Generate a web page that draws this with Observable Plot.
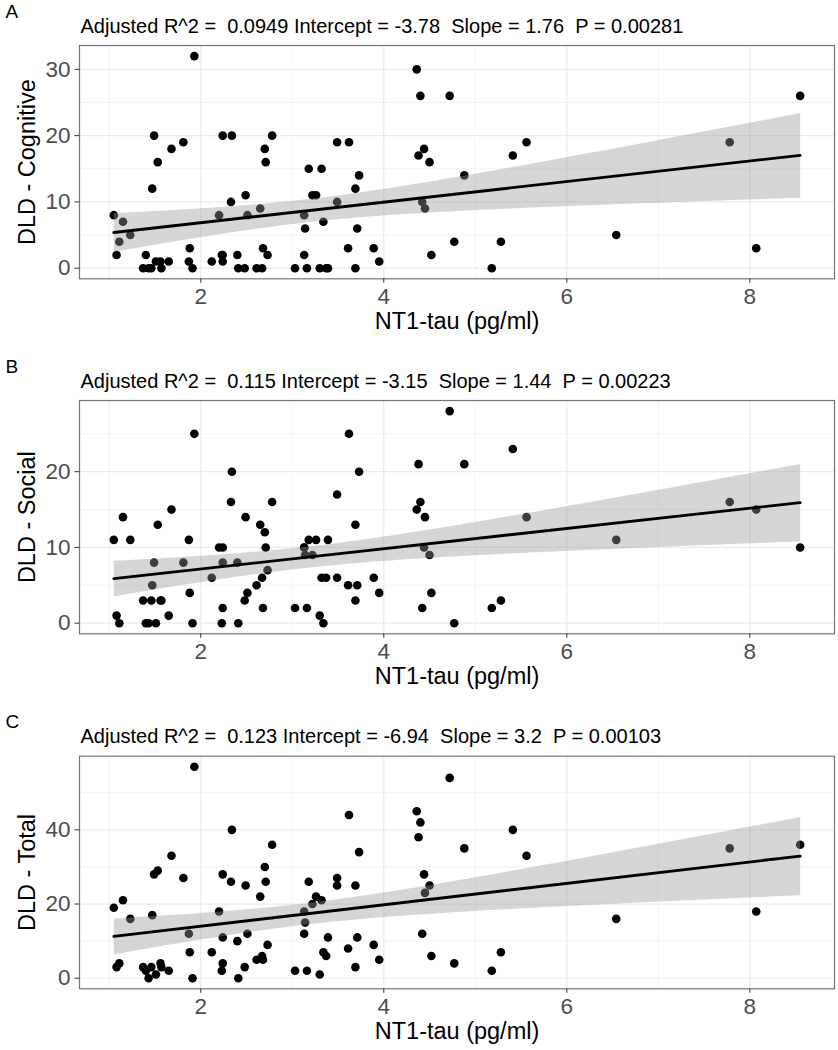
<!DOCTYPE html>
<html>
<head>
<meta charset="utf-8">
<script src="https://cdn.jsdelivr.net/npm/d3@7"></script>
<script src="https://cdn.jsdelivr.net/npm/@observablehq/plot@0.6"></script>
<style>
  html, body { margin: 0; padding: 0; background: white; }
  #chart svg { display: block; }
</style>
</head>
<body>
<div id="chart"></div>
<script>
// NT1-tau (pg/ml) per subject
const tau = [1.05,1.15,1.23,1.08,1.11,1.49,1.53,1.47,1.68,1.81,1.87,1.88,1.91,1.93,
  1.37,1.40,1.43,1.46,1.51,1.56,1.57,1.65,
  2.12,2.20,2.24,2.33,2.34,2.24,2.24,2.23,2.41,2.40,2.49,2.51,2.48,2.65,2.70,2.71,2.78,2.73,2.61,2.67,2.68,
  3.03,3.16,3.13,3.14,3.22,3.18,3.26,3.32,3.13,3.39,3.34,3.37,3.30,3.49,3.49,3.62,3.73,3.69,3.61,3.71,3.69,3.89,3.95,
  4.72,4.36,4.40,4.38,4.88,5.41,5.56,4.44,4.50,4.45,4.42,4.52,4.77,5.18,5.28,6.54,7.78,8.07,8.55];
// DLD - Cognitive
const cognitive = [8,7,5,2,4,20,16,12,18,19,1,3,0,32,
  0,2,0,0,1,1,0,1,
  1,8,20,10,20,1,2,2,0,2,11,8,0,9,18,16,20,2,0,0,3,
  0,0,8,6,11,15,11,15,2,0,7,0,0,10,19,19,14,12,3,6,0,3,1,
  26,30,26,17,14,17,19,18,16,9,10,2,4,0,4,5,19,3,26];
// DLD - Social
const social = [11,14,11,1,0,8,13,5,15,8,11,4,0,25,
  3,0,0,3,0,3,3,1,
  6,10,8,16,20,10,2,0,0,8,14,4,3,13,12,10,16,7,5,6,2,
  2,2,10,9,9,11,11,6,10,11,0,6,1,17,6,25,20,13,5,5,3,6,4,
  28,15,16,21,21,23,14,10,9,14,2,4,0,2,3,11,16,15,10];
// DLD - Total
const total = [19,21,16,3,4,28,29,17,33,27,12,7,0,57,
  3,2,0,3,1,4,3,2,
  7,18,28,26,40,11,4,2,0,10,25,12,3,22,30,26,36,9,5,6,5,
  2,2,18,15,20,26,22,21,12,11,7,6,1,27,25,44,34,25,8,11,3,9,5,
  54,45,42,38,35,40,33,28,25,23,12,6,4,2,7,16,35,18,36];

const xMajor = [2, 4, 6, 8];
const xMinor = [1, 3, 5, 7];
const tags = ["A", "B", "C"];
const yLabels = ["DLD - Cognitive", "DLD - Social", "DLD - Total"];
const subtitles = [
  "Adjusted R^2 =  0.0949 Intercept = -3.78  Slope = 1.76  P = 0.00281",
  "Adjusted R^2 =  0.115 Intercept = -3.15  Slope = 1.44  P = 0.00223",
  "Adjusted R^2 =  0.123 Intercept = -6.94  Slope = 3.2  P = 0.00103"
];
const yMajors = [[0, 10, 20, 30], [0, 10, 20], [0, 20, 40]];
const yMinors = [[5, 15, 25], [5, 15, 25], [10, 30, 50]];
const xLabel = "NT1-tau (pg/ml)";

const data = tau.map((t, i) => ({tau: t, cognitive: cognitive[i], social: social[i], total: total[i]}));
const keys = ["cognitive", "social", "total"];

function expand([a, b]) { const d = (b - a) * 0.05; return [a - d, b + d]; }
const xDomain = expand(d3.extent(tau));

const layout = [
  {height: 355, marginTop: 45, marginBottom: 76.7},
  {height: 355, marginTop: 45, marginBottom: 76.7},
  {height: 340, marginTop: 45.7, marginBottom: 61.7}
];

const nb = s => s.replace(/  /g, " \u00A0");
const font = "'Liberation Sans', Arial, Helvetica, sans-serif";
const root = document.getElementById("chart");

keys.forEach((key, i) => {
  const yDomain = expand(d3.extent(data, d => d[key]));
  const L = layout[i];
  const chart = Plot.plot({
    width: 838,
    height: L.height,
    marginLeft: 79,
    marginRight: 4,
    marginTop: L.marginTop,
    marginBottom: L.marginBottom,
    style: {fontFamily: font, background: "white", overflow: "visible"},
    x: {domain: xDomain},
    y: {domain: yDomain},
    marks: [
      Plot.gridX(xMinor, {stroke: "#ebebeb", strokeOpacity: 1, strokeWidth: 0.6}),
      Plot.gridY(yMinors[i], {stroke: "#ebebeb", strokeOpacity: 1, strokeWidth: 0.6}),
      Plot.gridX(xMajor, {stroke: "#ebebeb", strokeOpacity: 1, strokeWidth: 1.2}),
      Plot.gridY(yMajors[i], {stroke: "#ebebeb", strokeOpacity: 1, strokeWidth: 1.2}),
      Plot.dot(data, {x: "tau", y: key, r: 4.3, fill: "black"}),
      Plot.linearRegressionY(data, {x: "tau", y: key, stroke: "black", strokeWidth: 2.8, fill: "#999999", fillOpacity: 0.4, ci: 0.95}),
      Plot.frame({stroke: "#737373", strokeWidth: 1.2}),
      Plot.axisX({ticks: xMajor, tickSize: 4.5, tickPadding: 4.5, fontSize: 22.5, fill: "#4d4d4d", stroke: "#333333", label: null}),
      Plot.axisY({ticks: yMajors[i], tickSize: 4.5, tickPadding: 4.5, fontSize: 22.5, fill: "#4d4d4d", stroke: "#333333", label: null}),
      Plot.text([xLabel], {frameAnchor: "bottom", textAnchor: "middle", lineAnchor: "bottom", dy: 50, fontSize: 23.5, fill: "black"}),
      Plot.text([yLabels[i]], {frameAnchor: "left", textAnchor: "middle", lineAnchor: "middle", rotate: -90, dx: -52, fontSize: 23.5, fill: "black"}),
      Plot.text([nb(subtitles[i])], {frameAnchor: "top-left", textAnchor: "start", lineAnchor: "bottom", dx: 1, dy: -13, fontSize: 20, fill: "black"}),
      Plot.text([tags[i]], {frameAnchor: "top-left", textAnchor: "start", lineAnchor: "bottom", dx: -74, dy: -28, fontSize: 19, fill: "black"})
    ]
  });
  root.appendChild(chart);
});
</script>
</body>
</html>
